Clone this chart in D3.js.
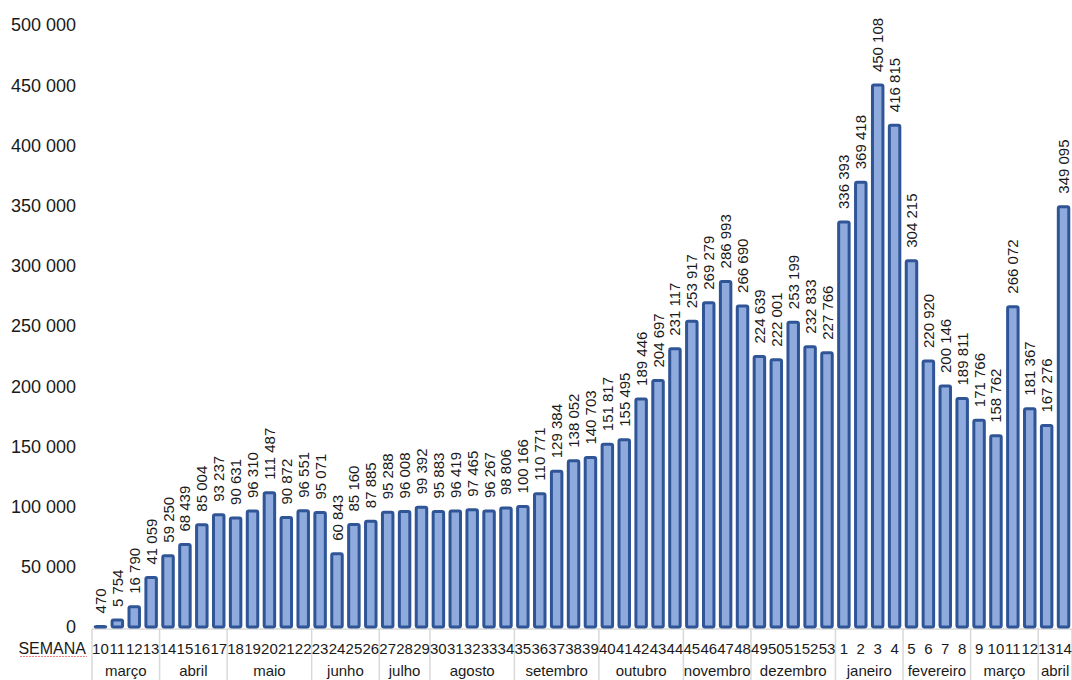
<!DOCTYPE html>
<html>
<head>
<meta charset="utf-8">
<script src="https://cdn.jsdelivr.net/npm/d3@7"></script>
<style>
  body { margin: 0; background: #fff; }
  svg { display: block; font-family: "Liberation Sans", Arial, sans-serif; }
</style>
</head>
<body>
<div id="chart"></div>
<script>
var weeks = [10, 11, 12, 13, 14, 15, 16, 17, 18, 19, 20, 21, 22, 23, 24, 25, 26, 27, 28, 29,
  30, 31, 32, 33, 34, 35, 36, 37, 38, 39, 40, 41, 42, 43, 44, 45, 46, 47, 48, 49, 50, 51, 52, 53,
  1, 2, 3, 4, 5, 6, 7, 8, 9, 10, 11, 12, 13, 14];
var values = [470, 5754, 16790, 41059, 59250, 68439, 85004, 93237, 90631, 96310, 111487, 90872,
  96551, 95071, 60843, 85160, 87885, 95288, 96008, 99392, 95883, 96419, 97465, 96267, 98806,
  100166, 110771, 129384, 138052, 140703, 151817, 155495, 189446, 204697, 231117, 253917,
  269279, 286993, 266690, 224639, 222001, 253199, 232833, 227766, 336393, 369418, 450108,
  416815, 304215, 220920, 200146, 189811, 171766, 158762, 266072, 181367, 167276, 349095];
var months = ["março", "abril", "maio", "junho", "julho", "agosto", "setembro", "outubro",
  "novembro", "dezembro", "janeiro", "fevereiro", "março", "abril"];
var monthSpans = [4, 4, 5, 4, 3, 5, 5, 5, 4, 5, 4, 4, 4, 2];
var yTicks = [0, 50000, 100000, 150000, 200000, 250000, 300000, 350000, 400000, 450000, 500000];

var width = 1072, height = 680;
var fmt = function(v) { return d3.format(",")(v).replace(/,/g, " "); };

var data = weeks.map(function(w, i) { return { key: i, week: w, value: values[i] }; });

var x = d3.scaleBand()
    .domain(data.map(function(d) { return d.key; }))
    .range([92, 1072])
    .paddingInner(0.38)
    .paddingOuter(0.19);
var y = d3.scaleLinear()
    .domain([0, 500000])
    .range([627, 25]);

var svg = d3.select("#chart").append("svg")
    .attr("width", width)
    .attr("height", height);

// y axis labels (no line, no gridlines)
svg.append("g").selectAll("text")
    .data(yTicks)
    .enter().append("text")
    .attr("x", 76)
    .attr("y", function(d) { return y(d); })
    .attr("dy", "0.36em")
    .attr("text-anchor", "end")
    .attr("font-size", 18)
    .attr("fill", "#1a1a1a")
    .text(fmt);

// category axis
var axisY = 629;
var bw = x.step();
var x0 = x.range()[0];
svg.append("line")
    .attr("x1", x0).attr("x2", 1072)
    .attr("y1", axisY).attr("y2", axisY)
    .attr("stroke", "#d9d9d9").attr("stroke-width", 1.5);

var bounds = [0];
monthSpans.forEach(function(s) { bounds.push(bounds[bounds.length - 1] + s); });
svg.append("g").selectAll("line")
    .data(bounds)
    .enter().append("line")
    .attr("x1", function(d) { return x0 + d * bw; })
    .attr("x2", function(d) { return x0 + d * bw; })
    .attr("y1", axisY).attr("y2", height)
    .attr("stroke", "#d9d9d9").attr("stroke-width", 1.5);

svg.append("g").selectAll("text")
    .data(data)
    .enter().append("text")
    .attr("x", function(d) { return x(d.key) + x.bandwidth() / 2; })
    .attr("y", 654)
    .attr("text-anchor", "middle")
    .attr("font-size", 15)
    .attr("fill", "#1a1a1a")
    .text(function(d) { return d.week; });

svg.append("g").selectAll("text")
    .data(months)
    .enter().append("text")
    .attr("x", function(d, i) { return x0 + (bounds[i] + monthSpans[i] / 2) * bw; })
    .attr("y", 676)
    .attr("text-anchor", "middle")
    .attr("font-size", 15)
    .attr("fill", "#1a1a1a")
    .text(function(d) { return d; });

svg.append("text")
    .attr("x", 86)
    .attr("y", 654)
    .attr("text-anchor", "end")
    .attr("font-size", 16)
    .attr("fill", "#1a1a1a")
    .text("SEMANA");
svg.append("line")
    .attr("x1", 20).attr("x2", 87)
    .attr("y1", 656.5).attr("y2", 656.5)
    .attr("stroke", "#f08080").attr("stroke-width", 1)
    .attr("stroke-dasharray", "2,1");

// bars
svg.append("g").selectAll("rect")
    .data(data)
    .enter().append("rect")
    .attr("x", function(d) { return x(d.key); })
    .attr("y", function(d) { return y(d.value); })
    .attr("width", x.bandwidth())
    .attr("height", function(d) { return y(0) - y(d.value); })
    .attr("rx", 1.5)
    .attr("fill", "#8faadc")
    .attr("stroke", "#2f5597")
    .attr("stroke-width", 3);

// data labels, rotated
svg.append("g").selectAll("text")
    .data(data)
    .enter().append("text")
    .attr("transform", function(d) {
      return "translate(" + (x(d.key) + x.bandwidth() / 2 + 5.5) + "," + (y(d.value) - 13) + ") rotate(-90)";
    })
    .attr("font-size", 15)
    .attr("fill", "#1a1a1a")
    .text(function(d) { return fmt(d.value); });
</script>
</body>
</html>
